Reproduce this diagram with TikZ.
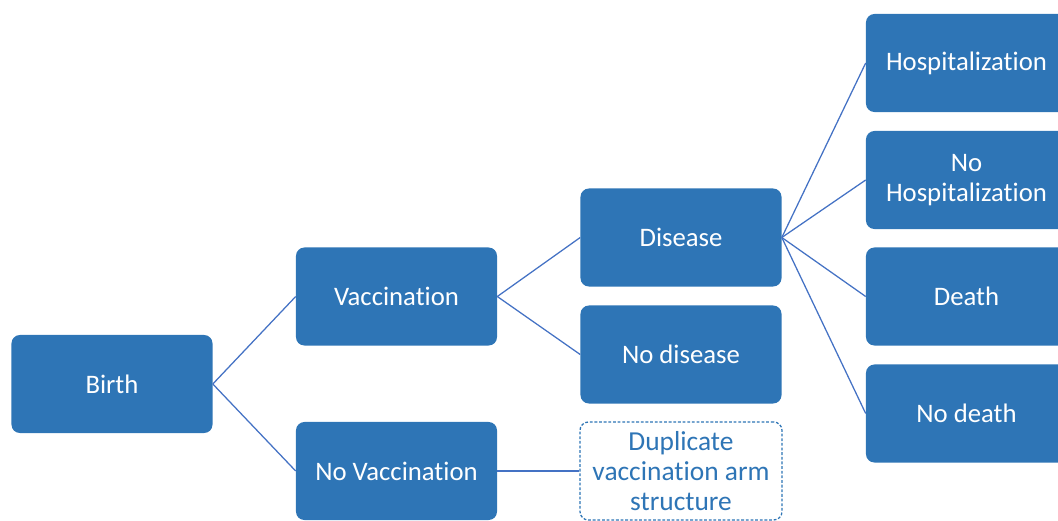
\documentclass[tikz,border=0pt]{standalone}
\usepackage{fontspec}
\setmainfont[Ligatures={NoCommon}]{Carlito}
\usepackage{tikz}

\definecolor{boxblue}{RGB}{46,117,182}
\definecolor{lineblue}{RGB}{68,114,196}

\tikzset{
  box/.style={rectangle, rounded corners=6pt, fill=boxblue, text=white,
    minimum width=5.025cm, minimum height=2.45cm, align=center,
    font=\fontsize{19}{21.3}\selectfont},
  dupbox/.style={rectangle, rounded corners=6pt, draw=boxblue, fill=white,
    dash pattern=on 2pt off 1.3pt, line width=0.9pt, text=boxblue,
    minimum width=5.05cm, minimum height=2.45cm, align=center,
    font=\fontsize{19.5}{21.3}\selectfont},
  link/.style={draw=lineblue, line width=0.9pt}
}

\begin{document}
\begin{tikzpicture}[x=0.025cm, y=-0.025cm]
          % Variables
          \def \colA {112}
          \def \colB {396.5}
          \def \colC {681}
          \def \colD {966.5}

          % Frame
          \clip (0,0) rectangle (1058,520);

          % Rectangles
          \node[box] (birth)  at (\colA, 384) {Birth};
          \node[box] (vacc)   at (\colB, 296.5) {Vaccination};
          \node[box] (novacc) at (\colB, 471) {No Vaccination};
          \node[box] (dis)    at (\colC, 237.5) {Disease};
          \node[box] (nodis)  at (\colC, 354.5) {No disease};
          \node[dupbox] (dup) at (\colC, 471) {Duplicate\\vaccination arm\\structure};
          \node[box] (hosp)   at (\colD, 63) {Hospitalization};
          \node[box] (nohosp) at (\colD, 180) {No\\Hospitalization};
          \node[box] (death)  at (\colD, 296.5) {Death};
          \node[box] (nodeath) at (\colD, 413.5) {No death};

          % Links
          \draw[link] (birth.east) -- (vacc.west);
          \draw[link] (birth.east) -- (novacc.west);
          \draw[link] (vacc.east) -- (dis.west);
          \draw[link] (vacc.east) -- (nodis.west);
          \draw[link] (novacc.east) -- (dup.west);
          \foreach \n in {hosp, nohosp, death, nodeath}
            \draw[link] (dis.east) -- (\n.west);

        \end{tikzpicture}
\end{document}
